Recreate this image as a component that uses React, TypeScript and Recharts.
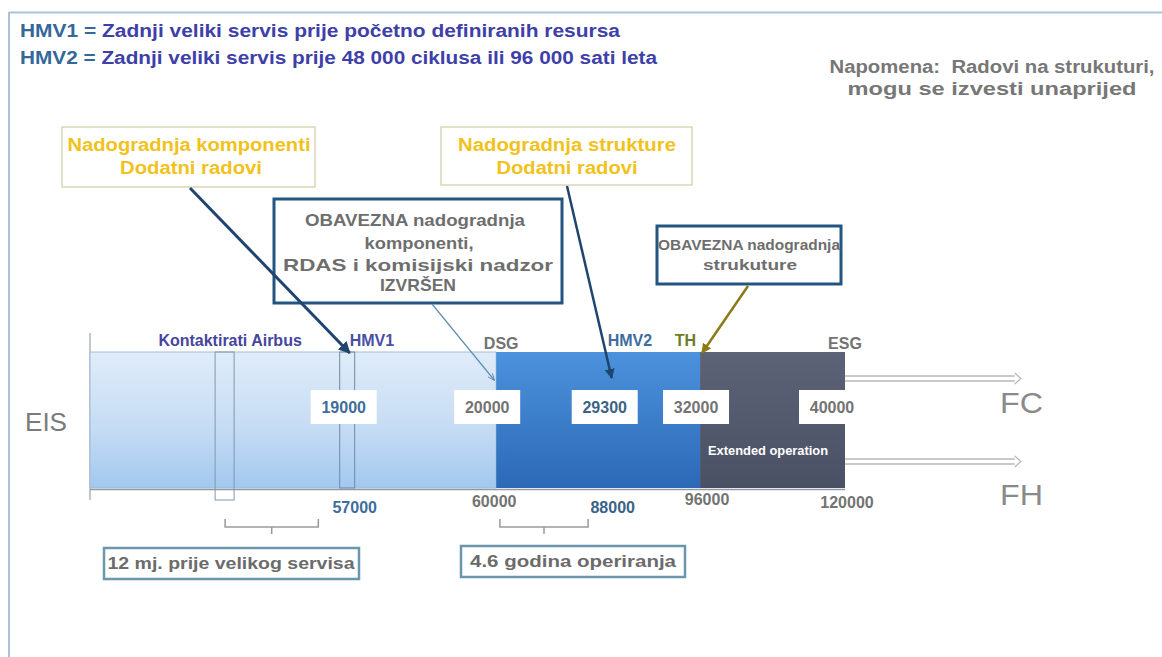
import React from "react";
import { ComposedChart, Bar, XAxis, YAxis, ReferenceLine, ReferenceArea, Customized } from "recharts";

// bar segments, in flight cycles
const phaseKeys = ["operation", "structure", "extended"];
const phaseCycles = [20000, 12000, 8000];

// milestones along the timeline
const milestones = ["EIS", "HMV1", "DSG", "HMV2", "TH", "ESG"];
const milestoneCycles = [0, 19000, 20000, 29300, 32000, 40000];
const milestoneHours = [0, 57000, 60000, 88000, 96000, 120000];

const airbusContact = { label: "Kontaktirati Airbus", cycles: 10000 };
const bracketFrom = [10000, 20300];
const bracketTo = [16900, 27400];
const bracketLabels = ["12 mj. prije velikog servisa", "4.6 godina operiranja"];
const arrowEnd = 49700;

const chartData = [
  { row: "FC", operation: phaseCycles[0], structure: phaseCycles[1], extended: phaseCycles[2] },
];

// the drawing is schematic, not to scale: where each milestone sits along the bar
const schematicStops = [0, 0.34, 0.538, 0.691, 0.808, 1];

function schematicScale(): any {
  let dom = [0, 1];
  let ran = [0, 1];
  const k = milestoneCycles;
  const s: any = (v: number) => {
    let i = 1;
    while (i < k.length - 1 && v > k[i]) i++;
    const t = (v - k[i - 1]) / (k[i] - k[i - 1]);
    const f = schematicStops[i - 1] + t * (schematicStops[i] - schematicStops[i - 1]);
    return ran[0] + f * (ran[1] - ran[0]);
  };
  s.domain = function (d?: number[]) {
    if (!arguments.length) return dom.slice();
    dom = (d as number[]).slice();
    return s;
  };
  s.range = function (r?: number[]) {
    if (!arguments.length) return ran.slice();
    ran = (r as number[]).slice();
    return s;
  };
  s.invert = (px: number) => {
    const f = (px - ran[0]) / (ran[1] - ran[0]);
    let i = 1;
    while (i < k.length - 1 && f > schematicStops[i]) i++;
    const t = (f - schematicStops[i - 1]) / (schematicStops[i] - schematicStops[i - 1]);
    return k[i - 1] + t * (k[i] - k[i - 1]);
  };
  s.copy = () => schematicScale().domain(dom).range(ran);
  s.ticks = () => k.slice();
  s.tickFormat = () => (v: number) => String(v);
  s.nice = () => s;
  s.clamp = () => s;
  return s;
}

const FONT = "'Liberation Sans', Arial, sans-serif";
const GRAY = "#737373";
const TEAL = "#3d6d9b";
const NAVY = "#1f4470";
const YELLOW = "#f1c21b";

// text stretched to the width it has in the slide
const T = ({ w, children, ...rest }: any) => (
  <text textLength={w} lengthAdjust="spacingAndGlyphs" {...rest}>
    {children}
  </text>
);

type Look = {
  color: string;
  valueColor: string;
  anchor: "start" | "middle" | "end";
  dx: number;
  dy: number;
  boxDx: number;
  fhDx: number;
  fhDy: number;
  marker?: boolean;
  callout?: { x: number; y: number; color: string; width: number; tipDx: number; tipDy: number; head: string };
};

const looks: Record<string, Look> = {
  HMV1: {
    color: "#4a4fa5", valueColor: TEAL, anchor: "start", dx: 3, dy: -6, boxDx: -3, fhDx: 8, fhDy: 25, marker: true,
    callout: { x: 190, y: 188, color: NAVY, width: 3, tipDx: 3, tipDy: 1, head: "headNavy" },
  },
  DSG: {
    color: GRAY, valueColor: GRAY, anchor: "middle", dx: 5, dy: -3, boxDx: -9, fhDx: -2, fhDy: 19,
    callout: { x: 432, y: 304, color: "#5d8fb3", width: 1.2, tipDx: -2, tipDy: 28, head: "headThin" },
  },
  HMV2: {
    color: TEAL, valueColor: "#3a6386", anchor: "start", dx: -4, dy: -6, boxDx: -7, fhDx: 1, fhDy: 25,
    callout: { x: 567, y: 186, color: NAVY, width: 2.5, tipDx: 0, tipDy: 26, head: "headNavy" },
  },
  TH: {
    color: "#6e7d1f", valueColor: GRAY, anchor: "end", dx: -4, dy: -6, boxDx: -4, fhDx: 7, fhDy: 17,
    callout: { x: 748, y: 286, color: "#8c7a17", width: 2.5, tipDx: 2, tipDy: 1, head: "headOlive" },
  },
  ESG: { color: GRAY, valueColor: GRAY, anchor: "middle", dx: 0, dy: -3, boxDx: -13, fhDx: 2, fhDy: 20 },
};

const milestoneLabel = (i: number) => (props: any) => {
  const vb = props.viewBox;
  if (!vb) return null;
  const x = vb.x;
  const top = vb.y;
  const bottom = vb.y + vb.height;
  const name = milestones[i];
  const lk = looks[name];
  const c = lk.callout;
  return (
    <g fontFamily={FONT} fontWeight="bold">
      {lk.marker && (
        <rect x={x - 7} y={top} width={15} height={bottom - top} fill="none" stroke="#6f8aa6" strokeWidth={1} />
      )}
      <text x={x + lk.dx} y={top + lk.dy} textAnchor={lk.anchor} fill={lk.color} fontSize={16}>
        {name}
      </text>
      <rect x={x + lk.boxDx - 33} y={top + 38} width={66} height={34} fill="#ffffff" />
      <text x={x + lk.boxDx} y={top + 61} textAnchor="middle" fill={lk.valueColor} fontSize={16}>
        {milestoneCycles[i]}
      </text>
      <text x={x + lk.fhDx} y={bottom + lk.fhDy} textAnchor="middle" fill={lk.valueColor} fontSize={16}>
        {milestoneHours[i]}
      </text>
      {c && (
        <line x1={c.x} y1={c.y} x2={x + c.tipDx} y2={top + c.tipDy} stroke={c.color} strokeWidth={c.width}
          markerEnd={`url(#${c.head})`} />
      )}
    </g>
  );
};

const contactLabel = (props: any) => {
  const vb = props.viewBox;
  if (!vb) return null;
  const x = vb.x;
  return (
    <g>
      <rect x={x - 10} y={vb.y} width={19} height={vb.height + 12} fill="none" stroke="#7f98b0" strokeWidth={1} />
      <text x={x + 5} y={vb.y - 6} textAnchor="middle" fill="#45459f" fontSize={16} fontWeight="bold" fontFamily={FONT}>
        {airbusContact.label}
      </text>
    </g>
  );
};

const bracketShape = (props: any) => {
  const { x, y, width, height } = props;
  const b = y + height;
  const mid = x + width / 2;
  return (
    <path d={`M${x},${b + 31} V${b + 39} H${x + width} V${b + 31} M${mid},${b + 39} V${b + 46}`}
      fill="none" stroke="#9a9a9a" strokeWidth={1.5} />
  );
};

const innerAxes = (props: any) => {
  const { x, y, width } = props;
  const ys = [27, 32, 108, 113];
  return (
    <g>
      {ys.map((d) => (
        <line key={d} x1={x} x2={x + width} y1={y + d} y2={y + d} stroke="#8ba6c2" strokeWidth={1} />
      ))}
    </g>
  );
};

const outerArrows = (props: any) => {
  const { x, y, width } = props;
  const end = x + width;
  return (
    <g fill="none" stroke="#b9b9b9" strokeWidth={1.3}>
      {[27, 110].map((d) => (
        <g key={d}>
          <line x1={x} x2={end - 6} y1={y + d - 3} y2={y + d - 3} />
          <line x1={x} x2={end - 6} y1={y + d + 2} y2={y + d + 2} />
          <path d={`M${end - 6},${y + d - 6} L${end},${y + d - 0.5} L${end - 6},${y + d + 5}`} />
        </g>
      ))}
    </g>
  );
};

const extendedLabel = (props: any) => {
  const { x, y, height } = props;
  return (
    <T w={120} x={x + 8} y={y + height - 33} fill="#ffffff" fontSize={12} fontWeight="bold" fontFamily={FONT}>
      Extended operation
    </T>
  );
};

const Overlay = () => (
  <g fontFamily={FONT}>
    <line x1={9} y1={12.5} x2={1162} y2={12.5} stroke="#a9c3dc" strokeWidth={2} />
    <line x1={9} y1={12} x2={9} y2={657} stroke="#a9c3dc" strokeWidth={2} />

    <g fontSize={18} fontWeight="bold" fill="#3e3fa8">
      <T w={600} x={20} y={37}>
        <tspan fill="#35679a">HMV1 =</tspan> Zadnji veliki servis prije početno definiranih resursa
      </T>
      <T w={637} x={20} y={64}>
        <tspan fill="#35679a">HMV2 =</tspan> Zadnji veliki servis prije 48 000 ciklusa ili 96 000 sati leta
      </T>
    </g>

    <g textAnchor="middle" fontSize={18} fontWeight="bold" fill="#777777">
      <T w={325} x={992} y={73} xmlSpace="preserve">Napomena:  Radovi na strukuturi,</T>
      <T w={289} x={992} y={95}>mogu se izvesti unaprijed</T>
    </g>

    <rect x={62} y={127} width={253} height={60} fill="#ffffff" stroke="#d3cca2" strokeWidth={1.2} />
    <rect x={441} y={127} width={251} height={58} fill="#ffffff" stroke="#d3cca2" strokeWidth={1.2} />
    <g textAnchor="middle" fontSize={18} fontWeight="bold" fill={YELLOW}>
      <T w={243} x={189} y={151}>Nadogradnja komponenti</T>
      <T w={142} x={191} y={174}>Dodatni radovi</T>
      <T w={218} x={567} y={151}>Nadogradnja strukture</T>
      <T w={141} x={567} y={174}>Dodatni radovi</T>
    </g>

    <rect x={274} y={199} width={288} height={104} fill="#ffffff" stroke="#22557f" strokeWidth={3} />
    <g textAnchor="middle" fontSize={17} fontWeight="bold" fill="#6e6e6e">
      <T w={220} x={415} y={226}>OBAVEZNA nadogradnja</T>
      <T w={109} x={419} y={249}>komponenti,</T>
      <T w={270} x={418} y={271}>RDAS i komisijski nadzor</T>
      <T w={76} x={418} y={291}>IZVRŠEN</T>
    </g>

    <rect x={657} y={226} width={184} height={58} fill="#ffffff" stroke="#22557f" strokeWidth={3} />
    <g textAnchor="middle" fontSize={14} fontWeight="bold" fill="#6e6e6e">
      <T w={182} x={749} y={250}>OBAVEZNA nadogradnja</T>
      <T w={94} x={750} y={270}>strukuture</T>
    </g>

    <line x1={90} y1={333} x2={90} y2={500} stroke="#9aa3ad" strokeWidth={1.2} />
    <line x1={90} y1={489.5} x2={845} y2={489.5} stroke="#8f9aa6" strokeWidth={1.5} />

    <T w={42} x={25} y={431} fontSize={25} fill="#7a7a7a">EIS</T>
    <T w={43} x={1000} y={413} fontSize={29} fill="#8a8a8a">FC</T>
    <T w={43} x={1000} y={505} fontSize={29} fill="#8a8a8a">FH</T>

    <rect x={104} y={548} width={255} height={31} fill="#ffffff" stroke="#6b96ad" strokeWidth={2.5} />
    <rect x={461} y={546} width={224} height={31} fill="#ffffff" stroke="#6b96ad" strokeWidth={2.5} />
    <g textAnchor="middle" fontWeight="bold" fill="#6b6b6b">
      <T w={247} x={231} y={569} fontSize={17}>{bracketLabels[0]}</T>
      <T w={206} x={573} y={567} fontSize={17}>{bracketLabels[1]}</T>
    </g>
  </g>
);

export default function App() {
  return (
    <div style={{ position: "absolute", left: 0, top: 0, background: "#ffffff" }}>
      <ComposedChart
        width={1162}
        height={657}
        data={chartData}
        layout="vertical"
        margin={{ top: 352, right: 317, bottom: 169, left: 90 }}
        barCategoryGap={0}
      >
        <defs>
          <linearGradient id="gLight" x1="0" y1="0" x2="0" y2="1">
            <stop offset="0%" stopColor="#e0ecf9" />
            <stop offset="55%" stopColor="#c6dcf4" />
            <stop offset="100%" stopColor="#a2c8ef" />
          </linearGradient>
          <linearGradient id="gBlue" x1="0" y1="0" x2="0" y2="1">
            <stop offset="0%" stopColor="#4c92dc" />
            <stop offset="100%" stopColor="#2c69b6" />
          </linearGradient>
          <linearGradient id="gDark" x1="0" y1="0" x2="0" y2="1">
            <stop offset="0%" stopColor="#5c6377" />
            <stop offset="100%" stopColor="#4b5165" />
          </linearGradient>
          <marker id="headNavy" viewBox="0 0 10 10" refX="9" refY="5" markerWidth="4" markerHeight="4" orient="auto">
            <path d="M0,0 L10,5 L0,10 z" fill={NAVY} />
          </marker>
          <marker id="headOlive" viewBox="0 0 10 10" refX="9" refY="5" markerWidth="4" markerHeight="4" orient="auto">
            <path d="M0,0 L10,5 L0,10 z" fill="#8c7a17" />
          </marker>
          <marker id="headThin" viewBox="0 0 10 10" refX="9" refY="5" markerWidth="6" markerHeight="6" orient="auto">
            <path d="M0,1 L10,5 L0,9" fill="none" stroke="#5d8fb3" strokeWidth={1.2} />
          </marker>
        </defs>
        <XAxis type="number" domain={[0, milestoneCycles[milestoneCycles.length - 1]]} scale={schematicScale()} hide />
        <YAxis type="category" dataKey="row" hide />
        <Customized component={Overlay} />
        <Bar dataKey={phaseKeys[0]} stackId="t" fill="url(#gLight)" stroke="#a3bcd6" strokeWidth={1} isAnimationActive={false} />
        <Bar dataKey={phaseKeys[1]} stackId="t" fill="url(#gBlue)" isAnimationActive={false} />
        <Bar dataKey={phaseKeys[2]} stackId="t" fill="url(#gDark)" isAnimationActive={false} label={extendedLabel} />
        <ReferenceArea x1={0} x2={milestoneCycles[2]} shape={innerAxes} ifOverflow="visible" />
        <ReferenceArea x1={milestoneCycles[5]} x2={arrowEnd} shape={outerArrows} ifOverflow="visible" />
        {bracketFrom.map((b, i) => (
          <ReferenceArea key={i} x1={b} x2={bracketTo[i]} shape={bracketShape} ifOverflow="visible" />
        ))}
        <ReferenceLine x={airbusContact.cycles} stroke="none" label={contactLabel} ifOverflow="visible" />
        {milestones.slice(1).map((m, j) => (
          <ReferenceLine key={m} x={milestoneCycles[j + 1]} stroke="none" label={milestoneLabel(j + 1)} ifOverflow="visible" />
        ))}
      </ComposedChart>
    </div>
  );
}
